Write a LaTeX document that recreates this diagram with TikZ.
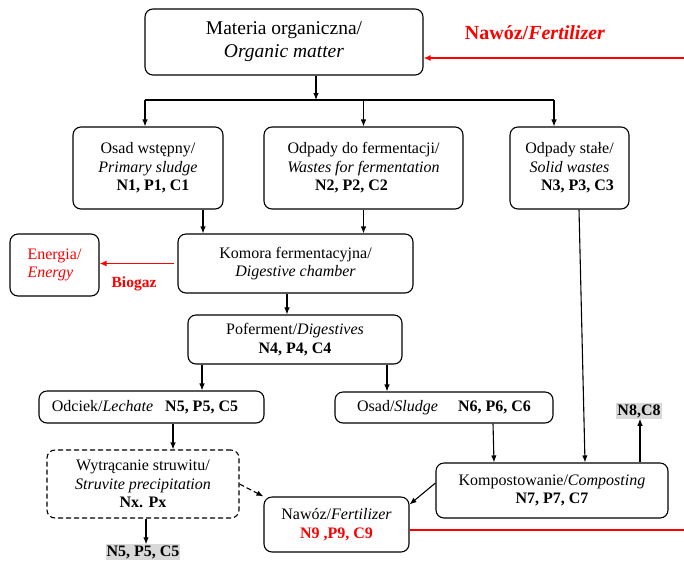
\documentclass[tikz,border=0pt]{standalone}
\usepackage{fontspec}
\setmainfont{LiberationSerif}[Extension=.ttf, UprightFont=*-Regular, BoldFont=*-Bold, ItalicFont=*-Italic, BoldItalicFont=*-BoldItalic]
\usetikzlibrary{arrows.meta,calc}
\definecolor{rred}{RGB}{255,0,0}
\definecolor{lgray}{RGB}{217,217,217}
\tikzset{
  box/.style={draw, line width=1.1pt, rounded corners=8pt, align=center, inner sep=0pt,
    font=\fontsize{16}{18.5}\selectfont},
  arr/.style={-{Latex[length=7pt,width=5.5pt]}, line width=1.1pt},
  redarr/.style={-{Latex[length=7pt,width=6pt]}, line width=1.6pt, draw=rred},
  graylab/.style={fill=lgray, inner sep=1pt, font=\fontsize{16}{18}\selectfont\bfseries},
  redlab/.style={text=rred, font=\bfseries},
}
\begin{document}
\begin{tikzpicture}[x=1pt,y=-1pt]
\useasboundingbox (0,0) rectangle (684,563);

% boxes
\node[box, minimum width=278pt, minimum height=66pt, font=\fontsize{19.5}{23}\selectfont] (top) at (284,42)
  {Materia organiczna/\\\textit{Organic matter}};
\node[box, minimum width=150pt, minimum height=82pt] (osad) at (148,168)
  {Osad wstępny/\\\textit{Primary sludge}\\\hspace*{10pt}\textbf{N1, P1, C1}};
\node[box, minimum width=199pt, minimum height=82pt] (ferm) at (363.5,168)
  {Odpady do fermentacji/\\\textit{Wastes for fermentation}\\\textbf{N2, P2, C2}\hspace*{24pt}};
\node[box, minimum width=119pt, minimum height=82pt] (stale) at (569.5,168)
  {Odpady stałe/\\\textit{Solid wastes}\hspace*{10pt}\\\hspace*{16pt}\textbf{N3, P3, C3}};
\node[box, minimum width=235pt, minimum height=59pt] (komora) at (295.5,263.5)
  {Komora fermentacyjna/\\\textit{Digestive chamber}};
\node[box, minimum width=89pt, minimum height=62pt, align=left, text=rred] (energia) at (54.5,265)
  {Energia/\\\textit{Energy}};
\node[box, minimum width=214pt, minimum height=49pt] (pofer) at (295,339.5)
  {Poferment/\textit{Digestives}\\\textbf{N4, P4, C4}};
\node[box, minimum width=225pt, minimum height=32pt] (odciek) at (151.5,407)
  {Odciek/\textit{Lechate}\hspace{12pt}\textbf{N5, P5, C5}\hspace*{13pt}};
\node[box, minimum width=218pt, minimum height=31pt] (osads) at (444,407.5)
  {Osad/\textit{Sludge}\hspace{20pt}\textbf{N6, P6, C6}};
\node[box, dash pattern=on 5pt off 3pt, minimum width=192pt, minimum height=68pt] (wytr) at (143,484)
  {Wytrącanie struwitu/\\\textit{Struvite precipitation}\\\textbf{Nx. Px}};
\node[box, minimum width=145pt, minimum height=55pt] (nawoz) at (336.5,524.5)
  {Nawóz/\textit{Fertilizer}\\\textcolor{rred}{\textbf{N9 ,P9, C9}}};
\node[box, minimum width=232pt, minimum height=55pt] (kompost) at (552,490.5)
  {Kompostowanie/\textit{Composting}\\\textbf{N7, P7, C7}};

% labels
\node[redlab, font=\fontsize{20}{22}\selectfont\bfseries] (fertlab) at (535,33) {Nawóz/\textit{Fertilizer}};
\node[redlab, font=\fontsize{15.5}{17}\selectfont\bfseries] (biogaz) at (134,284) {Biogaz};
\node[graylab] (n5b) at (143,552) {N5, P5, C5};
\node[graylab] (n8) at (639,411) {N8,C8};

% helper coordinates
\coordinate (busC) at (316,100);
\coordinate (busL) at (145,100);
\coordinate (busR) at (554,100);
\coordinate (redE) at (684,58);
\coordinate (redB) at (684,530);

% top distribution
\draw[arr] (top.south -| busC) -- (busC);
\draw[line width=1.1pt] (busL) -- (busR);
\draw[arr] (busL) -- (busL |- osad.north);
\draw[arr] (ferm.north |- busC) -- (ferm.north);
\draw[arr] (busR) -- (busR |- stale.north);

% to digestion chamber
\path ([xshift=55pt]osad.south) coordinate (o1);
\draw[arr] (o1) -- (o1 |- komora.north);
\draw[arr] (ferm.south) -- (ferm.south |- komora.north);

% biogas
\path ([xshift=-3pt]komora.west) coordinate (k0);
\draw[redarr] (k0) -- (k0 -| energia.east);

% to digestate
\path ([xshift=-8.5pt]komora.south) coordinate (k1);
\draw[arr] (k1) -- (k1 |- pofer.north);
\path ([xshift=-93pt]pofer.south) coordinate (p1);
\draw[arr] (p1) -- (p1 |- odciek.north);
\path ([xshift=92pt]pofer.south) coordinate (p2);
\draw[arr] (p2) -- (p2 |- osads.north);

% leachate
\path ([xshift=21.5pt]odciek.south) coordinate (l1);
\draw[arr] (l1) -- (l1 |- wytr.north);
\path ([xshift=3pt]wytr.south) coordinate (w1);
\draw[arr] (w1) -- (w1 |- n5b.north);
\draw[arr, dash pattern=on 5pt off 3pt] (wytr.east) -- (nawoz.north west);

% composting
\draw[arr] ([xshift=49pt]osads.south) -- ([xshift=-58pt]kompost.north);
\draw[arr] ([xshift=9.5pt]stale.south) -- ([xshift=33pt]kompost.north);
\path ([xshift=88pt]kompost.north) coordinate (c1);
\draw[arr] (c1) -- (c1 |- n8.south);
\draw[arr] ([yshift=7.5pt]kompost.west) -- ([yshift=-8pt]nawoz.north east);

% fertilizer loop
\draw[line width=1.6pt, rred] ([yshift=-5.5pt]nawoz.east) -- (redB);
\draw[redarr] (redE) -- (redE -| top.east);
\end{tikzpicture}
\end{document}
